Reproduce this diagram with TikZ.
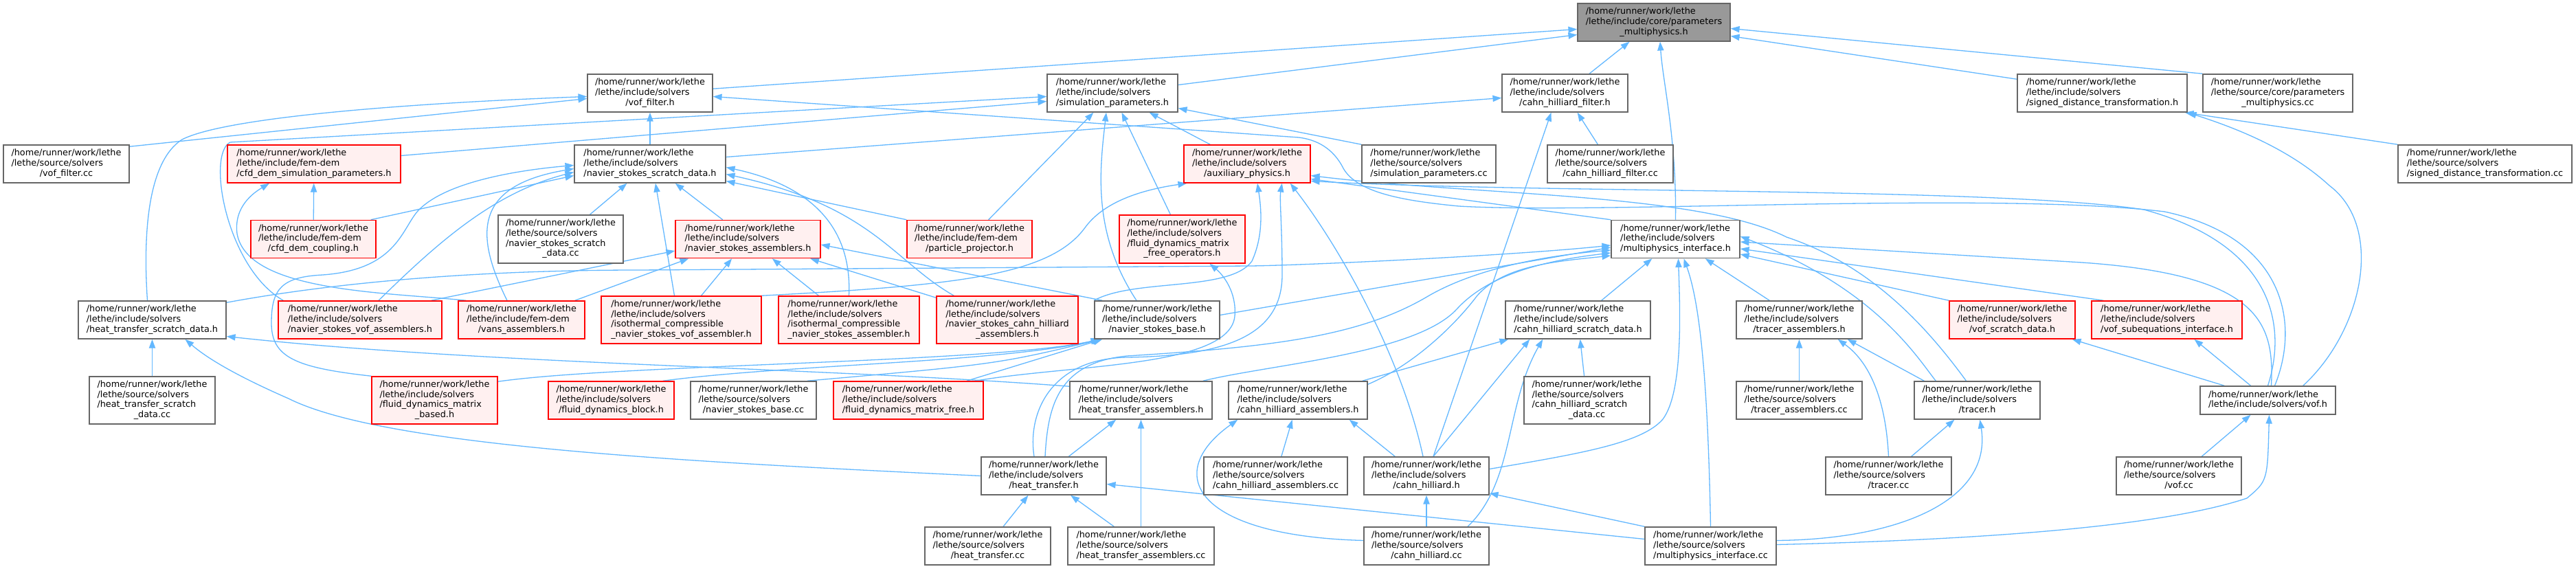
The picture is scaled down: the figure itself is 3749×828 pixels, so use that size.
\documentclass[tikz,border=0pt]{standalone}
\usepackage{fontspec}
\setmainfont{DejaVu Sans}
\usetikzlibrary{arrows.meta,calc,backgrounds}
\definecolor{edgec}{HTML}{63B8FF}
\definecolor{nbd}{HTML}{666666}
\definecolor{rootf}{HTML}{999999}
\definecolor{redf}{HTML}{FFF0F0}
\newcommand{\hm}{/home/runner/work/lethe}
\newcommand{\lb}[2]{\begin{tabular}{@{}l@{}}#1\\\multicolumn{1}{@{}c@{}}{#2}\end{tabular}}
\tikzset{
  boxn/.style 2 args={rectangle, draw=nbd, fill=white, line width=0.75pt, inner sep=0pt,
    minimum width={#1*0.5pt}, minimum height={#2*0.5pt}, font=\fontsize{6.41pt}{7.33pt}\selectfont},
  boxr/.style 2 args={boxn={#1}{#2}, draw=red, fill=redf},
  boxroot/.style 2 args={boxn={#1}{#2}, fill=rootf},
  ed/.style={draw=edgec, line width=0.65pt, -{Triangle[length=6.4pt,width=4.6pt]}},
}
\begin{document}
\begin{tikzpicture}[x=0.5pt,y=-0.5pt]
\useasboundingbox (0,0) rectangle (3749,828);
% row 0
\node[boxroot={222}{55}] (P) at (2407,32.5) {\lb{\hm\\/lethe/include/core/parameters}{\_multiphysics.h}};
% row 1
\node[boxn={182}{55}] (VF) at (946,135.5) {\lb{\hm\\/lethe/include/solvers}{/vof\_filter.h}};
\node[boxn={190}{55}] (SP) at (1619,135.5) {\lb{\hm\\/lethe/include/solvers}{/simulation\_parameters.h}};
\node[boxn={183}{55}] (CHF) at (2277.5,135.5) {\lb{\hm\\/lethe/include/solvers}{/cahn\_hilliard\_filter.h}};
\node[boxn={247}{55}] (SDT) at (3059.5,135.5) {\lb{\hm\\/lethe/include/solvers}{/signed\_distance\_transformation.h}};
\node[boxn={218}{55}] (PMC) at (3315,135.5) {\lb{\hm\\/lethe/source/core/parameters}{\_multiphysics.cc}};
% row 2
\node[boxn={183}{55}] (VFC) at (96.5,238.5) {\lb{\hm\\/lethe/source/solvers}{/vof\_filter.cc}};
\node[boxr={252}{55}] (CDSP) at (457,238.5) {\lb{\hm\\/lethe/include/fem-dem}{/cfd\_dem\_simulation\_parameters.h}};
\node[boxn={220}{55}] (NSSD) at (946,238.5) {\lb{\hm\\/lethe/include/solvers}{/navier\_stokes\_scratch\_data.h}};
\node[boxr={184}{55}] (AUX) at (1815,238.5) {\lb{\hm\\/lethe/include/solvers}{/auxiliary\_physics.h}};
\node[boxn={195}{55}] (SPC) at (2079.5,238.5) {\lb{\hm\\/lethe/source/solvers}{/simulation\_parameters.cc}};
\node[boxn={183}{55}] (CHFC) at (2343.5,238.5) {\lb{\hm\\/lethe/source/solvers}{/cahn\_hilliard\_filter.cc}};
\node[boxn={253}{55}] (SDTC) at (3616.5,238.5) {\lb{\hm\\/lethe/source/solvers}{/signed\_distance\_transformation.cc}};
% row 3
\node[boxr={182}{55}] (CDC) at (456,348) {\lb{\hm\\/lethe/include/fem-dem}{/cfd\_dem\_coupling.h}};
\node[boxn={182}{70}] (NSSDC) at (816,348) {\lb{\hm\\/lethe/source/solvers\\/navier\_stokes\_scratch}{\_data.cc}};
\node[boxr={211}{55}] (NSA) at (1088.5,348) {\lb{\hm\\/lethe/include/solvers}{/navier\_stokes\_assemblers.h}};
\node[boxr={182}{55}] (PP) at (1411,348) {\lb{\hm\\/lethe/include/fem-dem}{/particle\_projector.h}};
\node[boxr={183}{70}] (FDMFO) at (1720.5,348) {\lb{\hm\\/lethe/include/solvers\\/fluid\_dynamics\_matrix}{\_free\_operators.h}};
\node[boxn={187}{55}] (MI) at (2438.5,348) {\lb{\hm\\/lethe/include/solvers}{/multiphysics\_interface.h}};
% row 4
\node[boxn={215}{55}] (HTSD) at (221.5,465.5) {\lb{\hm\\/lethe/include/solvers}{/heat\_transfer\_scratch\_data.h}};
\node[boxr={238}{55}] (NSVA) at (524,465.5) {\lb{\hm\\/lethe/include/solvers}{/navier\_stokes\_vof\_assemblers.h}};
\node[boxr={184}{55}] (VANS) at (759,465.5) {\lb{\hm\\/lethe/include/fem-dem}{/vans\_assemblers.h}};
\node[boxr={233}{69}] (ICNSVA) at (991.5,465.5) {\lb{\hm\\/lethe/include/solvers\\/isothermal\_compressible}{\_navier\_stokes\_vof\_assembler.h}};
\node[boxr={205}{69}] (ICNSA) at (1235.5,465.5) {\lb{\hm\\/lethe/include/solvers\\/isothermal\_compressible}{\_navier\_stokes\_assembler.h}};
\node[boxr={206}{69}] (NSCHA) at (1466,465.5) {\lb{\hm\\/lethe/include/solvers\\/navier\_stokes\_cahn\_hilliard}{\_assemblers.h}};
\node[boxn={182}{55}] (NSB) at (1684,465.5) {\lb{\hm\\/lethe/include/solvers}{/navier\_stokes\_base.h}};
\node[boxn={211}{55}] (CHSD) at (2296.5,465.5) {\lb{\hm\\/lethe/include/solvers}{/cahn\_hilliard\_scratch\_data.h}};
\node[boxn={183}{55}] (TA) at (2618.5,465.5) {\lb{\hm\\/lethe/include/solvers}{/tracer\_assemblers.h}};
\node[boxr={183}{55}] (VSD) at (2928.5,465.5) {\lb{\hm\\/lethe/include/solvers}{/vof\_scratch\_data.h}};
\node[boxr={219}{55}] (VSI) at (3153.5,465.5) {\lb{\hm\\/lethe/include/solvers}{/vof\_subequations\_interface.h}};
% row 5
\node[boxn={183}{69}] (HTSDC) at (221.5,582.5) {\lb{\hm\\/lethe/source/solvers\\/heat\_transfer\_scratch}{\_data.cc}};
\node[boxr={183}{69}] (FDMB) at (632.5,582.5) {\lb{\hm\\/lethe/include/solvers\\/fluid\_dynamics\_matrix}{\_based.h}};
\node[boxr={183}{55}] (FDB) at (889.5,582.5) {\lb{\hm\\/lethe/include/solvers}{/fluid\_dynamics\_block.h}};
\node[boxn={183}{55}] (NSBC) at (1096.5,582.5) {\lb{\hm\\/lethe/source/solvers}{/navier\_stokes\_base.cc}};
\node[boxr={218}{55}] (FDMF) at (1322,582.5) {\lb{\hm\\/lethe/include/solvers}{/fluid\_dynamics\_matrix\_free.h}};
\node[boxn={207}{55}] (HTA) at (1660.5,582.5) {\lb{\hm\\/lethe/include/solvers}{/heat\_transfer\_assemblers.h}};
\node[boxn={202}{55}] (CHA) at (1889,582.5) {\lb{\hm\\/lethe/include/solvers}{/cahn\_hilliard\_assemblers.h}};
\node[boxn={183}{69}] (CHSDC) at (2309.5,582.5) {\lb{\hm\\/lethe/source/solvers\\/cahn\_hilliard\_scratch}{\_data.cc}};
\node[boxn={183}{55}] (TAC) at (2618.5,582.5) {\lb{\hm\\/lethe/source/solvers}{/tracer\_assemblers.cc}};
\node[boxn={183}{55}] (TR) at (2877.5,582.5) {\lb{\hm\\/lethe/include/solvers}{/tracer.h}};
\node[boxn={197}{41}] (VOF) at (3300.5,582.5) {\lb{\hm}{/lethe/include/solvers/vof.h}};
% row 6
\node[boxn={182}{55}] (HT) at (1519,692.5) {\lb{\hm\\/lethe/include/solvers}{/heat\_transfer.h}};
\node[boxn={209}{55}] (CHAC) at (1856.5,692.5) {\lb{\hm\\/lethe/source/solvers}{/cahn\_hilliard\_assemblers.cc}};
\node[boxn={182}{55}] (CH) at (2076,692.5) {\lb{\hm\\/lethe/include/solvers}{/cahn\_hilliard.h}};
\node[boxn={183}{55}] (TRC) at (2748.5,692.5) {\lb{\hm\\/lethe/source/solvers}{/tracer.cc}};
\node[boxn={182}{55}] (VOFC) at (3171,692.5) {\lb{\hm\\/lethe/source/solvers}{/vof.cc}};
% row 7
\node[boxn={183}{55}] (HTC) at (1437.5,794.5) {\lb{\hm\\/lethe/source/solvers}{/heat\_transfer.cc}};
\node[boxn={213}{55}] (HTAC) at (1660.5,794.5) {\lb{\hm\\/lethe/source/solvers}{/heat\_transfer\_assemblers.cc}};
\node[boxn={182}{55}] (CHC) at (2076,794.5) {\lb{\hm\\/lethe/source/solvers}{/cahn\_hilliard.cc}};
\node[boxn={191}{55}] (MIC) at (2489.5,794.5) {\lb{\hm\\/lethe/source/solvers}{/multiphysics\_interface.cc}};

\begin{scope}[on background layer]
\fill[white] (0,0) rectangle (3749,828);
% to P
\draw[ed] (VF) -- ($(P.west)+(0,10)$);
\draw[ed] (SP) -- ($(P.west)+(0,18)$);
\draw[ed] (CHF) -- (P);
\draw[ed] (MI.north) .. controls (2440,200) and (2420,120) .. ($(P.south)+(9,0)$);
\draw[ed] (PMC.north west) -- ($(P.east)+(0,9)$);
\draw[ed] ($(SDT.north west)+(0,8)$) -- ($(P.east)+(0,20)$);
% to VF
\draw[ed] ($(VFC.north east)+(0,3)$) -- ($(VF.west)+(0,8)$);
\draw[ed] ($(HTSD.north)+(-7,0)$) .. controls (208,340) and (215,235) .. (265,203) .. controls (330,170) and (600,150) .. ($(VF.west)+(0,5)$);
\draw[ed] (NSSD) -- (VF);
\draw[ed] ($(VOF.north)+(10,0)$) .. controls (3348,470) and (3325,345) .. (3150,308) .. controls (2900,278) and (2330,312) .. (2123,300) .. controls (2040,292) and (1975,280) .. (1955,245) .. controls (1940,215) and (1915,203) .. (1890,200) -- ($(VF.east)+(0,5)$);
% to CHF
\draw[ed] (CHFC) -- (CHF);
\draw[ed] ($(NSSD.east)+(0,-10)$) -- ($(CHF.west)+(0,7)$);
\draw[ed] ($(CH.north)+(10,0)$) -- ($(CHF.south)+(-20,0)$);
% to SDT
\draw[ed] (SDTC.north west) -- ($(SDT.south east)+(-4,0)$);
\draw[ed] ($(VOF.north east)+(-48,0)$) .. controls (3440,480) and (3470,330) .. (3390,270) .. controls (3330,215) and (3250,185) .. (SDT.south east);
% to SP
\draw[ed] ($(CDSP.east)+(0,-12)$) -- ($(SP.west)+(0,12)$);
\draw[ed] ($(NSVA.north west)+(8,0)$) .. controls (330,390) and (300,225) .. (335,207) -- ($(SP.west)+(0,5)$);
\draw[ed] (SPC.north west) -- ($(SP.east)+(0,22)$);
\draw[ed] (AUX) -- (SP);
\draw[ed] (PP) -- (SP);
\draw[ed] ($(NSB.north)+(-30,0)$) .. controls (1590,340) and (1600,250) .. ($(SP.south)+(-9,0)$);
\draw[ed] (FDMFO) -- (SP);
% to CDSP
\draw[ed] (CDC) -- (CDSP);
\draw[ed] ($(VANS.north west)+(12,0)$) .. controls (560,425) and (360,425) .. (345,340) .. controls (340,300) and (370,280) .. ($(CDSP.south)+(-65,0)$);
% to NSSD
\draw[ed] ($(CDC.north east)+(-8,0)$) -- ($(NSSD.west)+(0,17)$);
\draw[ed] (FDMB.north west) .. controls (430,535) and (395,520) .. (395,470) .. controls (395,420) and (410,403) .. (470,400) .. controls (580,392) and (585,330) .. (610,305) .. controls (650,265) and (750,248) .. ($(NSSD.west)+(0,2)$);
\draw[ed] ($(NSVA.north)+(27,0)$) .. controls (640,350) and (720,280) .. ($(NSSD.west)+(0,12)$);
\draw[ed] ($(VANS.north)+(-21,0)$) .. controls (690,340) and (690,270) .. ($(NSSD.west)+(0,7)$);
\draw[ed] (NSSDC) -- (NSSD);
\draw[ed] ($(ICNSVA.north)+(-10,0)$) -- ($(NSSD.south)+(8,0)$);
\draw[ed] (NSA) -- (NSSD);
\draw[ed] (PP.north west) -- ($(NSSD.east)+(0,25)$);
\draw[ed] (ICNSA.north) .. controls (1240,330) and (1180,270) .. ($(NSSD.east)+(0,5)$);
\draw[ed] ($(NSCHA.north west)+(26,0)$) .. controls (1300,380) and (1270,300) .. ($(NSSD.east)+(0,15)$);
% to NSA
\draw[ed] ($(NSVA.north east)+(-16,0)$) -- ($(NSA.west)+(0,17)$);
\draw[ed] ($(VANS.north east)+(-15,0)$) -- ($(NSA.south west)+(20,0)$);
\draw[ed] (ICNSVA) -- (NSA);
\draw[ed] (ICNSA) -- (NSA);
\draw[ed] (NSCHA) -- (NSA);
\draw[ed] ($(NSB.north west)+(12,0)$) -- ($(NSA.east)+(0,8)$);
% to AUX
\draw[ed] (ICNSVA.north east) .. controls (1400,415) and (1530,400) .. (1580,330) .. controls (1610,290) and (1670,275) .. ($(AUX.south west)+(5,0)$);
\draw[ed] (NSB.north west) .. controls (1650,405) and (1790,425) .. (1822,380) .. controls (1840,340) and (1835,300) .. ($(AUX.south)+(15,0)$);
\draw[ed] ($(HT.north)+(-14,0)$) .. controls (1495,600) and (1530,522) .. (1640,520) .. controls (1780,518) and (1866,490) .. (1866,400) .. controls (1866,330) and (1862,290) .. ($(AUX.south east)+(-42,0)$);
\draw[ed] ($(CH.north)+(-5,0)$) .. controls (2040,520) and (1950,360) .. ($(AUX.south east)+(-30,0)$);
\draw[ed] (MI.north west) -- ($(AUX.east)+(0,22)$);
\draw[ed] ($(TR.north)+(-16,0)$) .. controls (2800,470) and (2720,385) .. (2600,345) .. controls (2470,280) and (2150,285) .. ($(AUX.east)+(0,17)$);
\draw[ed] (VOF.north) .. controls (3330,470) and (3305,355) .. (3120,305) .. controls (2900,272) and (2250,282) .. ($(AUX.east)+(0,25)$);
% to MI
\draw[ed] ($(HTSD.north east)+(0,3)$) .. controls (450,418) and (650,393) .. (930,393) -- (1820,387) .. controls (1900,386) and (2200,372) .. ($(MI.west)+(0,9)$);
\draw[ed] ($(NSB.east)+(0,-7)$) -- ($(MI.west)+(0,12)$);
\draw[ed] ($(HT.north)+(2,0)$) .. controls (1525,590) and (1540,528) .. (1640,518) .. controls (1850,505) and (1980,490) .. (2080,430) .. controls (2150,390) and (2250,372) .. ($(MI.west)+(0,16)$);
\draw[ed] ($(HTA.north east)+(-14,0)$) .. controls (1850,530) and (2060,515) .. (2120,450) .. controls (2170,395) and (2260,378) .. ($(MI.west)+(0,20)$);
\draw[ed] ($(CHA.north east)+(0,5)$) .. controls (2060,530) and (2120,470) .. (2150,430) .. controls (2190,385) and (2270,380) .. ($(MI.west)+(0,24)$);
\draw[ed] (CHSD) -- (MI);
\draw[ed] (TA) -- (MI);
\draw[ed] (VSD.north west) -- ($(MI.east)+(0,22)$);
\draw[ed] ($(VSI.north west)+(18,0)$) -- ($(MI.east)+(0,14)$);
\draw[ed] ($(VOF.north)+(5,0)$) .. controls (3310,470) and (3290,400) .. (3030,382) -- ($(MI.east)+(0,4)$);
\draw[ed] ($(TR.north west)+(32,0)$) .. controls (2790,520) and (2730,420) .. ($(MI.east)+(0,-4)$);
\draw[ed] (MIC.north) .. controls (2485,520) and (2470,430) .. ($(MI.south)+(12,0)$);
\draw[ed] ($(CH.east)+(0,-10)$) .. controls (2300,660) and (2390,645) .. (2420,610) .. controls (2450,570) and (2445,450) .. ($(MI.south)+(4,0)$);
% to HTSD
\draw[ed] (HTSDC) -- (HTSD);
\draw[ed] (HT.west) .. controls (1000,672) and (560,650) .. (420,580) .. controls (340,545) and (300,520) .. ($(HTSD.south)+(48,0)$);
\draw[ed] ($(HTA.north west)+(0,8)$) .. controls (1200,535) and (700,530) .. ($(HTSD.east)+(0,24)$);
% to HTA / HT
\draw[ed] (HT) -- (HTA);
\draw[ed] (HTAC) -- (HTA);
\draw[ed] (HTC) -- (HT);
\draw[ed] (HTAC) -- (HT);
\draw[ed] ($(MIC.west)+(0,-10)$) -- ($(HT.east)+(0,12)$);
% to NSB
\draw[ed] ($(FDMB.north east)+(0,8)$) .. controls (900,530) and (1450,528) .. ($(NSB.south west)+(8,0)$);
\draw[ed] ($(FDB.north east)+(-17,0)$) .. controls (1150,530) and (1450,528) .. ($(NSB.south west)+(10,0)$);
\draw[ed] ($(NSBC.north east)+(-14,0)$) .. controls (1450,530) .. ($(NSB.south west)+(11,0)$);
\draw[ed] ($(FDMF.north)+(85,0)$) -- ($(NSB.south west)+(12,0)$);
% to FDMFO
\draw[ed] ($(FDMF.north east)+(-12,0)$) .. controls (1560,530) and (1790,535) .. (1797,460) .. controls (1800,425) and (1780,400) .. ($(FDMFO.south)+(40,0)$);
% to CHSD
\draw[ed] (CHSDC) -- (CHSD);
\draw[ed] ($(CHA.north east)+(-8,0)$) -- ($(CHSD.south west)+(5,0)$);
\draw[ed] ($(CH.north)+(10,0)$) -- ($(CHSD.south west)+(36,0)$);
\draw[ed] ($(CHC.north)+(60,0)$) .. controls (2205,700) and (2190,590) .. ($(CHSD.south west)+(55,0)$);
% to CHA
\draw[ed] (CHAC) -- (CHA);
\draw[ed] ($(CH.north west)+(46,0)$) -- ($(CHA.south east)+(-27,0)$);
\draw[ed] ($(CHC.west)+(0,-8)$) .. controls (1740,780) and (1690,690) .. ($(CHA.south west)+(14,0)$);
% to CH
\draw[ed] (CHC) -- (CH);
\draw[ed] (MIC.north west) -- ($(CH.south east)+(0,-3)$);
% to TA
\draw[ed] (TAC) -- (TA);
\draw[ed] (TRC.north) .. controls (2745,590) and (2725,530) .. ($(TA.south east)+(-36,0)$);
\draw[ed] ($(TR.north west)+(15,0)$) -- ($(TA.south east)+(-22,0)$);
% to TR
\draw[ed] (TRC) -- (TR);
\draw[ed] ($(MIC.east)+(0,-8)$) .. controls (2760,785) and (2900,730) .. ($(TR.south)+(4,0)$);
% to VOF and VOF's parents
\draw[ed] (VOFC) -- (VOF);
\draw[ed] ($(MIC.east)+(0,-2)$) .. controls (2900,785) and (3150,765) .. (3270,725) .. controls (3300,700) .. ($(VOF.south)+(2,0)$);
\draw[ed] ($(VOF.north west)+(36,0)$) -- ($(VSD.south east)+(-5,0)$);
\draw[ed] ($(VOF.north)+(-25,0)$) -- ($(VSI.south)+(40,0)$);
\end{scope}
\end{tikzpicture}
\end{document}
